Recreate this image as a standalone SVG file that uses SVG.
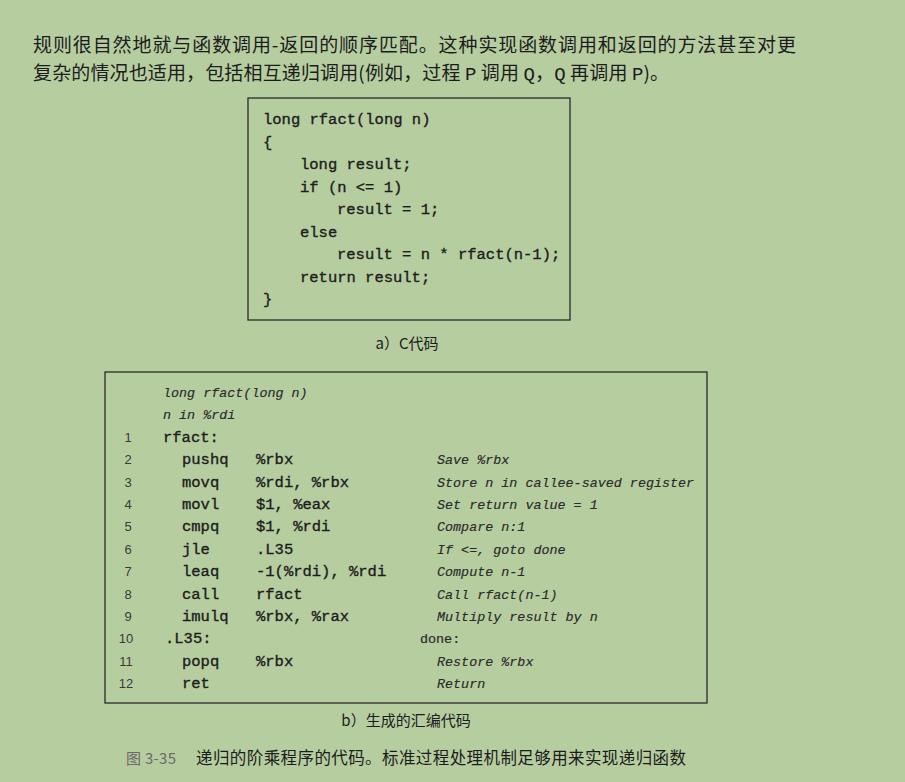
<svg xmlns="http://www.w3.org/2000/svg" width="905" height="782" viewBox="0 0 905 782">
<style>
.bg{fill:#b6cda0}
.box{fill:none;stroke:#2a2a2a;stroke-width:1.3}
.cjk{font-family:"Noto Sans CJK SC","Noto Sans",sans-serif;fill:#1c1c1c}
.code{font-family:"Liberation Mono","DejaVu Sans Mono",monospace;font-size:15.5px;fill:#1c1c1c;stroke:#1c1c1c;stroke-width:0.35}
.cmt{font-family:"Liberation Mono","DejaVu Sans Mono",monospace;font-size:13.4px;font-style:italic;fill:#2a2a2a;stroke:#2a2a2a;stroke-width:0.15}
.lbl{font-family:"Liberation Mono","DejaVu Sans Mono",monospace;font-size:13.4px;fill:#2a2a2a;stroke:#2a2a2a;stroke-width:0.2}
.num{font-family:"Liberation Sans",sans-serif;font-size:13px;fill:#3a3a3a;text-anchor:middle}
</style>
<rect class="bg" x="0" y="0" width="905" height="782"/>
<g id="paragraph">
<text class="cjk" x="33" y="52" font-size="19" textLength="763" lengthAdjust="spacing">规则很自然地就与函数调用-返回的顺序匹配。这种实现函数调用和返回的方法甚至对更</text>
<text class="cjk" x="33" y="80" font-size="19" textLength="636" lengthAdjust="spacing">复杂的情况也适用，包括相互递归调用(例如，过程 <tspan font-family="Liberation Mono,monospace">P</tspan> 调用 <tspan font-family="Liberation Mono,monospace">Q</tspan>，<tspan font-family="Liberation Mono,monospace">Q</tspan> 再调用 <tspan font-family="Liberation Mono,monospace">P</tspan>)。</text>
</g>
<g id="c-code">
<rect class="box" x="248" y="98" width="322" height="222"/>
<text class="code" x="263" y="124">long rfact(long n)</text>
<text class="code" x="263" y="146.5">{</text>
<text class="code" x="300" y="169">long result;</text>
<text class="code" x="300" y="191.5">if (n &lt;= 1)</text>
<text class="code" x="337" y="214">result = 1;</text>
<text class="code" x="300" y="236.5">else</text>
<text class="code" x="337" y="259">result = n * rfact(n-1);</text>
<text class="code" x="300" y="281.5">return result;</text>
<text class="code" x="263" y="304">}</text>
</g>
<g id="caption-a">
<text class="cjk" x="407" y="349" font-size="15" text-anchor="middle">a）C代码</text>
</g>
<g id="asm-code">
<rect class="box" x="105" y="372" width="602" height="331"/>
<text class="cmt" x="163" y="397">long rfact(long n)</text>
<text class="cmt" x="163" y="419.4">n in %rdi</text>
<text class="num" x="128" y="441.8">1</text>
<text class="code" x="163" y="441.8">rfact:</text>
<text class="num" x="128" y="464.2">2</text>
<text class="code" x="182" y="464.2">pushq</text><text class="code" x="256" y="464.2">%rbx</text><text class="cmt" x="437" y="464.2">Save %rbx</text>
<text class="num" x="128" y="486.6">3</text>
<text class="code" x="182" y="486.6">movq</text><text class="code" x="256" y="486.6">%rdi, %rbx</text><text class="cmt" x="437" y="486.6">Store n in callee-saved register</text>
<text class="num" x="128" y="509">4</text>
<text class="code" x="182" y="509">movl</text><text class="code" x="256" y="509">$1, %eax</text><text class="cmt" x="437" y="509">Set return value = 1</text>
<text class="num" x="128" y="531.4">5</text>
<text class="code" x="182" y="531.4">cmpq</text><text class="code" x="256" y="531.4">$1, %rdi</text><text class="cmt" x="437" y="531.4">Compare n:1</text>
<text class="num" x="128" y="553.8">6</text>
<text class="code" x="182" y="553.8">jle</text><text class="code" x="256" y="553.8">.L35</text><text class="cmt" x="437" y="553.8">If &lt;=, goto done</text>
<text class="num" x="128" y="576.2">7</text>
<text class="code" x="182" y="576.2">leaq</text><text class="code" x="256" y="576.2">-1(%rdi), %rdi</text><text class="cmt" x="437" y="576.2">Compute n-1</text>
<text class="num" x="128" y="598.6">8</text>
<text class="code" x="182" y="598.6">call</text><text class="code" x="256" y="598.6">rfact</text><text class="cmt" x="437" y="598.6">Call rfact(n-1)</text>
<text class="num" x="128" y="621">9</text>
<text class="code" x="182" y="621">imulq</text><text class="code" x="256" y="621">%rbx, %rax</text><text class="cmt" x="437" y="621">Multiply result by n</text>
<text class="num" x="126" y="643.4">10</text>
<text class="code" x="165" y="643.4">.L35:</text><text class="lbl" x="420" y="643.4">done:</text>
<text class="num" x="126" y="665.8">11</text>
<text class="code" x="182" y="665.8">popq</text><text class="code" x="256" y="665.8">%rbx</text><text class="cmt" x="437" y="665.8">Restore %rbx</text>
<text class="num" x="126" y="688.2">12</text>
<text class="code" x="182" y="688.2">ret</text><text class="cmt" x="437" y="688.2">Return</text>
</g>
<g id="caption-b">
<text class="cjk" x="406" y="726" font-size="15" text-anchor="middle">b）生成的汇编代码</text>
</g>
<g id="figure-caption">
<text class="cjk" x="126" y="764" font-size="15" style="fill:#6a6a6a" textLength="50" lengthAdjust="spacing">图 3-35</text>
<text class="cjk" x="196" y="764" font-size="16.5" textLength="490" lengthAdjust="spacing">递归的阶乘程序的代码。标准过程处理机制足够用来实现递归函数</text>
</g>
</svg>
